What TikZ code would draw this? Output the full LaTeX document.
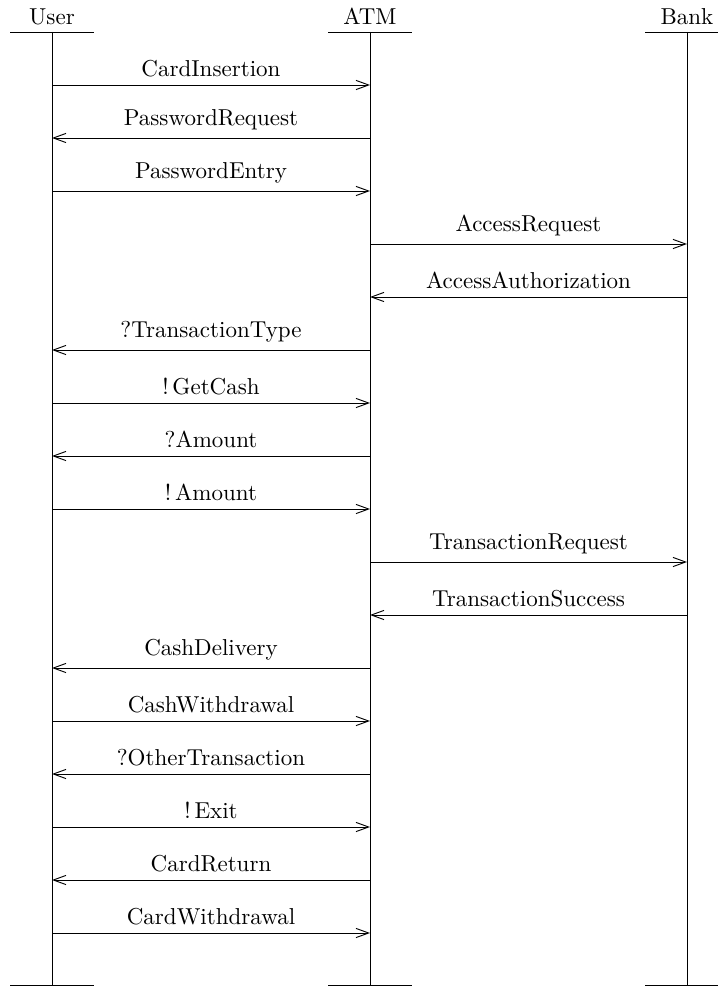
\documentclass[tikz,border=0pt]{standalone}
\usetikzlibrary{arrows.meta}
\begin{document}
\begin{tikzpicture}[x=0.4345pt,y=-0.4345pt]
        % Styles
        \tikzstyle{head}=[anchor=base,inner sep=0pt]
        \tikzstyle{lifeline}=[]
        \tikzstyle{msg}=[-{Straight Barb[length=5.5pt,width=4pt]}]
        %The graphic
        \clip (0,0) rectangle (718,986);
        \useasboundingbox (0,0) rectangle (718,986);
        %lifelines
        \foreach \n/\t/\x in {user/User/52,atm/ATM/370,bank/Bank/687}
        {
            \node[head] (\n) at (\x,25) {\t};
            \coordinate (\n top) at (\x,32);
            \coordinate (\n bot) at (\x,985);
            \draw[style=lifeline] (\n top) -- (\n bot);
            \draw (\n top) ++(-42,0) -- ++(84,0);
            \draw (\n bot) ++(-42,0) -- ++(84,0);
        }
        %messages
        \foreach \i/\s/\e/\l in {1/user/atm/CardInsertion,
            2/atm/user/PasswordRequest,
            3/user/atm/PasswordEntry,
            4/atm/bank/AccessRequest,
            5/bank/atm/AccessAuthorization,
            6/atm/user/?TransactionType,
            7/user/atm/!\,GetCash,
            8/atm/user/?Amount,
            9/user/atm/!\,Amount,
            10/atm/bank/TransactionRequest,
            11/bank/atm/TransactionSuccess,
            12/atm/user/CashDelivery,
            13/user/atm/CashWithdrawal,
            14/atm/user/?OtherTransaction,
            15/user/atm/!\,Exit,
            16/atm/user/CardReturn,
            17/user/atm/CardWithdrawal}
        {
            \path (\s top) ++(0,53*\i) coordinate (from\i);
            \path (\e top) ++(0,53*\i) coordinate (to\i);
            \draw[msg] (from\i) -- node[above] {\l} (to\i);
        }
\end{tikzpicture}
\end{document}
